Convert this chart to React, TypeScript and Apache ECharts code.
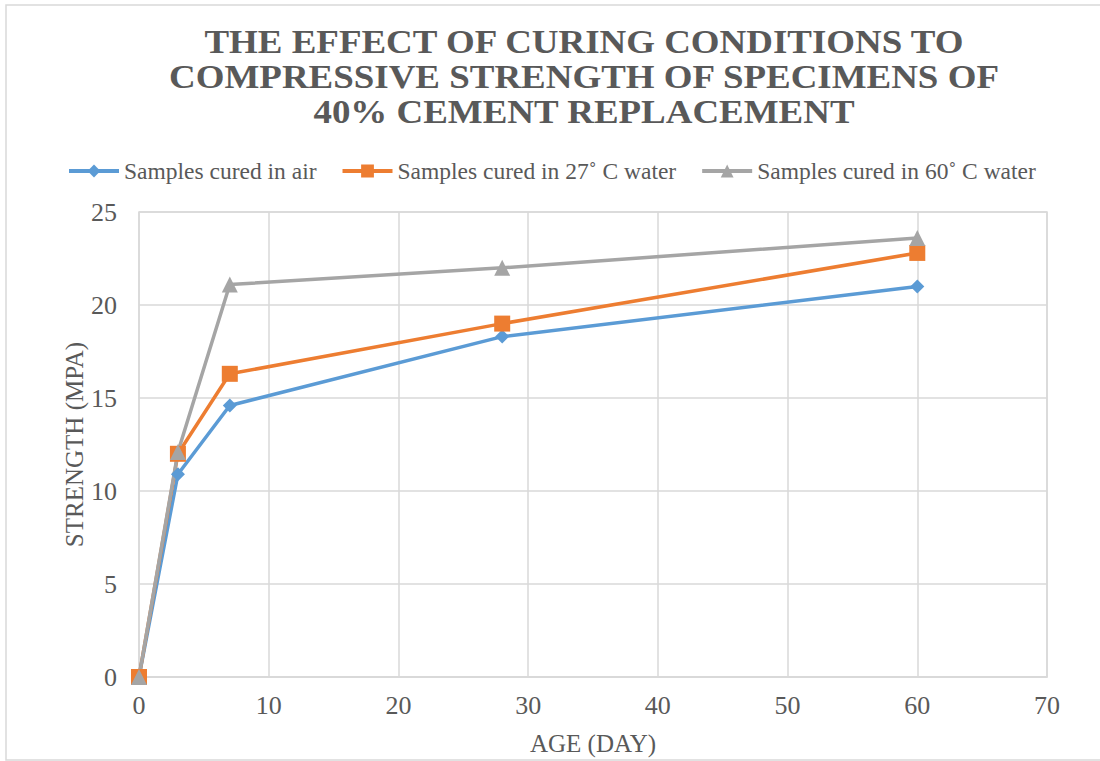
import React, { useEffect, useRef } from "react";
import * as echarts from "echarts";

const days = [0, 3, 7, 28, 60];
const airStrength = [0, 10.9, 14.6, 18.3, 21.0];
const water27Strength = [0, 12.0, 16.3, 19.0, 22.8];
const water60Strength = [0, 12.1, 21.1, 22.0, 23.6];
const seriesNames = [
  "Samples cured in air",
  "Samples cured in 27˚ C water",
  "Samples cured in 60˚ C water",
];
const titleText = "THE EFFECT OF CURING CONDITIONS TO\nCOMPRESSIVE STRENGTH OF SPECIMENS OF\n40% CEMENT REPLACEMENT";

const FONT = "Times New Roman, serif";
const TXT = "#595959";

export default function App() {
  const ref = useRef<HTMLDivElement>(null);
  useEffect(() => {
    const chart = echarts.init(ref.current!, null, { renderer: "svg" });
    const pair = (ys: number[]) => days.map((d, i) => [d, ys[i]]);
    const mk = (name: string, ys: number[], color: string, symbol: string, size: number) => ({
      name,
      type: "line",
      data: pair(ys),
      symbol,
      symbolSize: size,
      showAllSymbol: true,
      lineStyle: { color, width: 3.5 },
      itemStyle: { color },
      emphasis: { disabled: true },
    });
    chart.setOption({
      animation: false,
      backgroundColor: "#fff",
      textStyle: { fontFamily: FONT },
      legend: {
        top: 154,
        left: 62,
        itemWidth: 50,
        itemHeight: 16,
        itemGap: 24,
        lineStyle: { width: 4 },
        textStyle: { fontFamily: FONT, fontSize: 23.5, color: TXT },
        data: seriesNames,
      },
      grid: { left: 139, right: 53, top: 212, bottom: 84 },
      xAxis: {
        type: "value",
        min: 0,
        max: 70,
        interval: 10,
        name: "AGE (DAY)",
        nameLocation: "middle",
        nameGap: 54,
        nameTextStyle: { fontFamily: FONT, fontSize: 25, color: TXT },
        axisLine: { show: true, lineStyle: { color: "#d9d9d9", width: 1.5 } },
        axisTick: { show: false },
        axisLabel: { fontFamily: FONT, fontSize: 26, color: TXT, margin: 15 },
        splitLine: { show: true, lineStyle: { color: "#d9d9d9", width: 1.5 } },
      },
      yAxis: {
        type: "value",
        min: 0,
        max: 25,
        interval: 5,
        name: "STRENGTH (MPA)",
        nameLocation: "middle",
        nameGap: 52,
        nameMoveOverlap: false,
        nameTextStyle: { fontFamily: FONT, fontSize: 25, color: TXT },
        axisLine: { show: false },
        axisTick: { show: false },
        axisLabel: { fontFamily: FONT, fontSize: 26, color: TXT, margin: 22 },
        splitLine: { show: true, lineStyle: { color: "#d9d9d9", width: 1.5 } },
      },
      graphic: [
        {
          type: "rect",
          shape: { x: 6, y: 5, width: 1100, height: 755 },
          style: { fill: "none", stroke: "#d9d9d9", lineWidth: 1.5 },
          silent: true,
        },
        {
          type: "rect",
          shape: { x: 139, y: 212, width: 908, height: 465 },
          style: { fill: "none", stroke: "#d9d9d9", lineWidth: 1.5 },
          silent: true,
        },
        {
          type: "text",
          x: 584,
          y: 25,
          scaleX: 1.12,
          silent: true,
          style: {
            text: titleText,
            align: "center",
            verticalAlign: "top",
            fontFamily: FONT,
            fontWeight: "bold",
            fontSize: 33,
            lineHeight: 35,
            fill: TXT,
          },
        },
      ],
      series: [
        mk(seriesNames[0], airStrength, "#5b9bd5", "diamond", 14),
        mk(seriesNames[1], water27Strength, "#ed7d31", "rect", 16),
        mk(seriesNames[2], water60Strength, "#a5a5a5", "triangle", 16),
      ],
    });
    return () => chart.dispose();
  }, []);
  return (
    <div
      ref={ref}
      style={{ position: "absolute", left: 0, top: 0, width: 1100, height: 761 }}
    />
  );
}
